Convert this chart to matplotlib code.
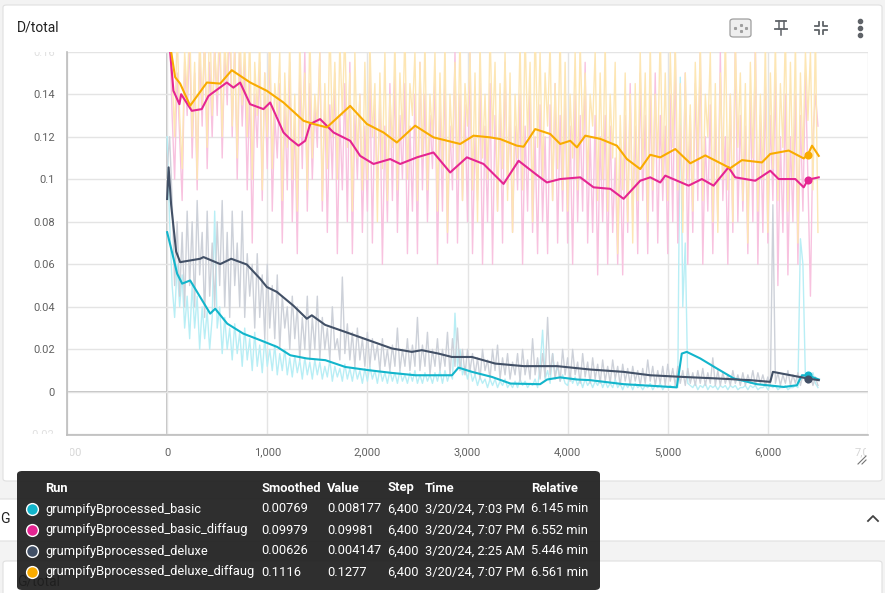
import matplotlib
matplotlib.use("Agg")
import matplotlib.pyplot as plt
from matplotlib.patches import FancyBboxPatch
from matplotlib.lines import Line2D
from matplotlib.transforms import Bbox

plt.rcParams["font.family"] = ["Roboto", "DejaVu Sans"]

# ---------------- data ----------------
runs = ["grumpifyBprocessed_basic", "grumpifyBprocessed_basic_diffaug",
        "grumpifyBprocessed_deluxe", "grumpifyBprocessed_deluxe_diffaug"]
colors = ["#12b5cb", "#e52592", "#425066", "#f9ab00"]
raw_colors = ["#b8eef5", "#f8c2df", "#cdd1d9", "#fde6b4"]
smoothed_vals = ["0.00769", "0.09979", "0.00626", "0.1116"]
raw_vals = ["0.008177", "0.09981", "0.004147", "0.1277"]
last_steps = ["6,400", "6,400", "6,400", "6,400"]
times = ["3/20/24, 7:03 PM", "3/20/24, 7:07 PM", "3/20/24, 2:25 AM", "3/20/24, 7:07 PM"]
relative = ["6.145 min", "6.552 min", "5.446 min", "6.561 min"]

# raw values every 25 steps, 0 .. 6500
raw_steps = list(range(0, 6525, 25))

basic_raw = [
    0.12, 0.08, 0.05, 0.035, 0.06, 0.04, 0.055, 0.03, 0.045, 0.025,
    0.05, 0.03, 0.045, 0.02, 0.04, 0.025, 0.038, 0.02, 0.035, 0.085,
    0.03, 0.04, 0.018, 0.035, 0.02, 0.03, 0.015, 0.032, 0.018, 0.028,
    0.012, 0.03, 0.015, 0.025, 0.01, 0.028, 0.012, 0.022, 0.009, 0.025,
    0.012, 0.02, 0.01, 0.022, 0.008, 0.018, 0.01, 0.02, 0.008, 0.016,
    0.007, 0.017, 0.009, 0.015, 0.006, 0.016, 0.008, 0.014, 0.006, 0.015,
    0.008, 0.014, 0.006, 0.012, 0.007, 0.015, 0.005, 0.012, 0.007, 0.011,
    0.005, 0.013, 0.006, 0.011, 0.005, 0.012, 0.006, 0.01, 0.004, 0.011,
    0.005, 0.012, 0.006, 0.01, 0.004, 0.011, 0.005, 0.009, 0.004, 0.01,
    0.005, 0.009, 0.004, 0.01, 0.005, 0.008, 0.004, 0.009, 0.005, 0.01,
    0.004, 0.008, 0.004, 0.009, 0.005, 0.008, 0.004, 0.009, 0.005, 0.01,
    0.004, 0.01, 0.005, 0.009, 0.006, 0.037, 0.012, 0.02, 0.008, 0.012,
    0.006, 0.011, 0.005, 0.008, 0.003, 0.007, 0.004, 0.006, 0.002, 0.006,
    0.003, 0.006, 0.002, 0.005, 0.003, 0.006, 0.002, 0.004, 0.002, 0.005,
    0.002, 0.006, 0.003, 0.005, 0.002, 0.004, 0.003, 0.006, 0.002, 0.012,
    0.029, 0.006, 0.01, 0.004, 0.018, 0.008, 0.012, 0.005, 0.008, 0.004,
    0.003, 0.008, 0.004, 0.007, 0.003, 0.006, 0.002, 0.006, 0.003, 0.005,
    0.002, 0.005, 0.003, 0.006, 0.002, 0.005, 0.002, 0.004, 0.002, 0.006,
    0.002, 0.004, 0.001, 0.004, 0.002, 0.004, 0.001, 0.004, 0.002, 0.003,
    0.001, 0.003, 0.002, 0.004, 0.001, 0.003, 0.002, 0.004, 0.001, 0.003,
    0.002, 0.003, 0.002, 0.003, 0.002, 0.148, 0.04, 0.07, 0.004, 0.003,
    0.002, 0.004, 0.001, 0.003, 0.002, 0.004, 0.001, 0.003, 0.002, 0.003,
    0.001, 0.003, 0.002, 0.003, 0.001, 0.003, 0.002, 0.003, 0.001, 0.002,
    0.002, 0.003, 0.001, 0.003, 0.002, 0.003, 0.001, 0.002, 0.002, 0.003,
    0.001, 0.003, 0.002, 0.003, 0.001, 0.002, 0.002, 0.003, 0.001, 0.002,
    0.002, 0.003, 0.002, 0.072, 0.06, 0.006, 0.008177, 0.005, 0.009, 0.004,
    0.002]

basic_diffaug_raw = [
    0.20, 0.17, 0.13, 0.10, 0.15, 0.12, 0.09, 0.155, 0.13, 0.165,
    0.11, 0.15, 0.095, 0.16, 0.125, 0.17, 0.105, 0.155, 0.12, 0.165,
    0.13, 0.17, 0.11, 0.16, 0.135, 0.175, 0.12, 0.165, 0.10, 0.16,
    0.125, 0.155, 0.095, 0.145, 0.07, 0.14, 0.115, 0.155, 0.09, 0.15,
    0.105, 0.165, 0.085, 0.13, 0.11, 0.145, 0.07, 0.135, 0.095, 0.155,
    0.08, 0.13, 0.065, 0.15, 0.105, 0.16, 0.085, 0.145, 0.10, 0.135,
    0.115, 0.16, 0.085, 0.14, 0.075, 0.135, 0.10, 0.15, 0.065, 0.13,
    0.095, 0.145, 0.08, 0.155, 0.065, 0.13, 0.10, 0.14, 0.075, 0.125,
    0.085, 0.15, 0.07, 0.135, 0.095, 0.14, 0.06, 0.125, 0.08, 0.145,
    0.09, 0.15, 0.075, 0.13, 0.10, 0.145, 0.065, 0.125, 0.085, 0.14,
    0.065, 0.155, 0.095, 0.14, 0.08, 0.13, 0.105, 0.15, 0.06, 0.135,
    0.085, 0.15, 0.07, 0.125, 0.095, 0.16, 0.07, 0.14, 0.09, 0.135,
    0.08, 0.16, 0.065, 0.12, 0.09, 0.145, 0.06, 0.125, 0.08, 0.145,
    0.06, 0.13, 0.085, 0.14, 0.07, 0.155, 0.095, 0.13, 0.075, 0.125,
    0.095, 0.14, 0.06, 0.125, 0.085, 0.145, 0.075, 0.12, 0.065, 0.135,
    0.08, 0.12, 0.065, 0.135, 0.09, 0.145, 0.07, 0.13, 0.085, 0.14,
    0.07, 0.125, 0.06, 0.14, 0.08, 0.13, 0.085, 0.155, 0.07, 0.12,
    0.075, 0.13, 0.055, 0.12, 0.08, 0.13, 0.06, 0.125, 0.075, 0.11,
    0.06, 0.115, 0.055, 0.13, 0.075, 0.145, 0.08, 0.125, 0.065, 0.15,
    0.09, 0.13, 0.065, 0.14, 0.085, 0.15, 0.07, 0.13, 0.09, 0.125,
    0.065, 0.14, 0.08, 0.16, 0.07, 0.125, 0.085, 0.15, 0.06, 0.13,
    0.075, 0.145, 0.09, 0.16, 0.06, 0.12, 0.085, 0.135, 0.065, 0.13,
    0.08, 0.16, 0.09, 0.12, 0.06, 0.14, 0.075, 0.165, 0.08, 0.13,
    0.085, 0.125, 0.065, 0.14, 0.08, 0.165, 0.06, 0.13, 0.075, 0.145,
    0.07, 0.13, 0.09, 0.15, 0.05, 0.12, 0.075, 0.14, 0.055, 0.12,
    0.08, 0.14, 0.06, 0.13, 0.085, 0.15, 0.09981, 0.045, 0.12, 0.14,
    0.125]

deluxe_raw = [
    0.105, 0.12, 0.09, 0.05, 0.08, 0.045, 0.075, 0.04, 0.085, 0.05,
    0.08, 0.04, 0.09, 0.055, 0.075, 0.035, 0.085, 0.045, 0.07, 0.04,
    0.08, 0.05, 0.09, 0.04, 0.075, 0.035, 0.085, 0.05, 0.07, 0.04,
    0.085, 0.035, 0.065, 0.045, 0.06, 0.03, 0.065, 0.035, 0.055, 0.025,
    0.06, 0.03, 0.05, 0.025, 0.055, 0.02, 0.045, 0.03, 0.04, 0.02,
    0.045, 0.025, 0.04, 0.015, 0.035, 0.02, 0.045, 0.015, 0.035, 0.02,
    0.045, 0.015, 0.035, 0.02, 0.03, 0.015, 0.04, 0.02, 0.025, 0.015,
    0.054, 0.018, 0.032, 0.015, 0.028, 0.012, 0.03, 0.015, 0.025, 0.012,
    0.028, 0.012, 0.025, 0.015, 0.022, 0.01, 0.025, 0.012, 0.02, 0.01,
    0.022, 0.012, 0.03, 0.01, 0.02, 0.012, 0.025, 0.01, 0.022, 0.012,
    0.035, 0.01, 0.022, 0.012, 0.028, 0.008, 0.02, 0.012, 0.025, 0.01,
    0.02, 0.012, 0.028, 0.008, 0.025, 0.012, 0.03, 0.01, 0.02, 0.008,
    0.02, 0.01, 0.018, 0.008, 0.016, 0.006, 0.02, 0.01, 0.015, 0.006,
    0.02, 0.01, 0.022, 0.006, 0.016, 0.008, 0.018, 0.006, 0.014, 0.008,
    0.018, 0.005, 0.02, 0.008, 0.015, 0.006, 0.025, 0.008, 0.016, 0.006,
    0.018, 0.007, 0.035, 0.008, 0.018, 0.006, 0.014, 0.005, 0.02, 0.008,
    0.016, 0.005, 0.02, 0.008, 0.014, 0.004, 0.018, 0.007, 0.014, 0.004,
    0.016, 0.006, 0.013, 0.004, 0.015, 0.005, 0.012, 0.004, 0.015, 0.006,
    0.012, 0.003, 0.013, 0.005, 0.011, 0.003, 0.012, 0.005, 0.01, 0.003,
    0.011, 0.004, 0.015, 0.005, 0.012, 0.003, 0.01, 0.004, 0.012, 0.003,
    0.013, 0.005, 0.011, 0.003, 0.012, 0.004, 0.01, 0.003, 0.011, 0.004,
    0.009, 0.003, 0.01, 0.004, 0.011, 0.003, 0.009, 0.004, 0.016, 0.003,
    0.01, 0.003, 0.009, 0.004, 0.008, 0.003, 0.01, 0.004, 0.008, 0.003,
    0.009, 0.003, 0.008, 0.004, 0.01, 0.003, 0.009, 0.004, 0.008, 0.003,
    0.007, 0.003, 0.088, 0.004, 0.009, 0.003, 0.008, 0.004, 0.01, 0.003,
    0.008, 0.004, 0.009, 0.003, 0.008, 0.005, 0.004147, 0.008, 0.003, 0.007,
    0.003]

deluxe_diffaug_raw = [
    0.21, 0.19, 0.15, 0.12, 0.17, 0.13, 0.105, 0.16, 0.14, 0.175,
    0.12, 0.155, 0.10, 0.17, 0.135, 0.165, 0.115, 0.18, 0.13, 0.16,
    0.14, 0.175, 0.12, 0.165, 0.145, 0.19, 0.125, 0.16, 0.11, 0.175,
    0.135, 0.165, 0.12, 0.17, 0.10, 0.155, 0.13, 0.165, 0.095, 0.15,
    0.12, 0.17, 0.105, 0.145, 0.13, 0.16, 0.09, 0.15, 0.115, 0.165,
    0.10, 0.14, 0.085, 0.165, 0.12, 0.15, 0.095, 0.17, 0.11, 0.14,
    0.125, 0.16, 0.09, 0.145, 0.105, 0.175, 0.12, 0.155, 0.10, 0.165,
    0.13, 0.17, 0.115, 0.15, 0.085, 0.16, 0.11, 0.14, 0.095, 0.155,
    0.10, 0.165, 0.12, 0.145, 0.08, 0.15, 0.105, 0.16, 0.09, 0.14,
    0.115, 0.165, 0.095, 0.15, 0.12, 0.17, 0.10, 0.145, 0.13, 0.16,
    0.09, 0.155, 0.11, 0.165, 0.095, 0.14, 0.12, 0.16, 0.085, 0.15,
    0.105, 0.165, 0.075, 0.14, 0.115, 0.155, 0.10, 0.17, 0.09, 0.145,
    0.125, 0.16, 0.095, 0.15, 0.08, 0.165, 0.11, 0.14, 0.10, 0.17,
    0.12, 0.155, 0.085, 0.145, 0.105, 0.16, 0.09, 0.15, 0.075, 0.14,
    0.11, 0.165, 0.095, 0.17, 0.12, 0.155, 0.08, 0.175, 0.115, 0.16,
    0.10, 0.15, 0.125, 0.165, 0.09, 0.145, 0.105, 0.17, 0.095, 0.155,
    0.085, 0.14, 0.11, 0.16, 0.095, 0.165, 0.12, 0.15, 0.10, 0.14,
    0.125, 0.16, 0.09, 0.15, 0.10, 0.165, 0.085, 0.14, 0.11, 0.155,
    0.065, 0.13, 0.095, 0.15, 0.08, 0.14, 0.07, 0.145, 0.09, 0.16,
    0.105, 0.15, 0.08, 0.165, 0.095, 0.14, 0.11, 0.17, 0.10, 0.15,
    0.09, 0.16, 0.115, 0.165, 0.095, 0.145, 0.075, 0.15, 0.10, 0.135,
    0.085, 0.155, 0.11, 0.165, 0.09, 0.14, 0.12, 0.16, 0.08, 0.145,
    0.075, 0.15, 0.10, 0.17, 0.095, 0.14, 0.08, 0.165, 0.115, 0.15,
    0.09, 0.145, 0.07, 0.155, 0.11, 0.16, 0.085, 0.14, 0.10, 0.165,
    0.075, 0.15, 0.105, 0.165, 0.09, 0.145, 0.115, 0.17, 0.085, 0.155,
    0.10, 0.165, 0.07, 0.15, 0.11, 0.16, 0.1277, 0.16, 0.095, 0.17,
    0.075]

basic_s_steps = [0, 33, 100, 150, 230, 330, 430, 480, 600, 760, 930, 1100, 1230, 1395,
                 1580, 1780, 2010, 2245, 2480, 2710, 2845, 2910, 3045, 3245, 3430, 3725,
                 3795, 3925, 4095, 4225, 4560, 4890, 5090, 5140, 5190, 5325, 5490, 5660,
                 5890, 6160, 6290, 6340, 6400, 6510]
basic_s = [0.0751, 0.0688, 0.0556, 0.0509, 0.0524, 0.0446, 0.0368, 0.0391, 0.0321, 0.0274,
           0.0243, 0.0211, 0.0172, 0.0157, 0.0149, 0.0117, 0.0102, 0.0089, 0.0078, 0.0078,
           0.0078, 0.0114, 0.0094, 0.007, 0.0039, 0.0036, 0.0058, 0.0068, 0.0058, 0.0055,
           0.0036, 0.0027, 0.0021, 0.018, 0.0188, 0.0157, 0.011, 0.0063, 0.0036, 0.0023,
           0.0031, 0.0078, 0.00769, 0.0058]

basic_diffaug_s_steps = [0, 30, 63, 123, 140, 246, 346, 413, 596, 662, 729, 829, 962, 1029,
                         1162, 1229, 1312, 1379, 1429, 1528, 1662, 1828, 1928, 2061, 2228,
                         2328, 2495, 2660, 2827, 2994, 3160, 3360, 3510, 3693, 3793, 3926,
                         4126, 4259, 4426, 4559, 4725, 4825, 4925, 4975, 5208, 5341, 5457,
                         5607, 5674, 5874, 6024, 6107, 6274, 6358, 6400, 6508]
basic_diffaug_s = [0.19, 0.16, 0.1416, 0.1353, 0.140, 0.1322, 0.133, 0.1392, 0.1455, 0.1431,
                   0.1455, 0.1353, 0.133, 0.1361, 0.122, 0.1189, 0.1158, 0.1181, 0.126, 0.1283,
                   0.122, 0.1181, 0.111, 0.1072, 0.1095, 0.1072, 0.1103, 0.1126, 0.1032, 0.1103,
                   0.1072, 0.0978, 0.1087, 0.102, 0.0985, 0.1001, 0.1009, 0.0962, 0.0955, 0.0908,
                   0.0993, 0.1009, 0.0985, 0.1017, 0.097, 0.1001, 0.097, 0.1056, 0.1009, 0.0993,
                   0.104, 0.1001, 0.1001, 0.0962, 0.09979, 0.1009]

deluxe_s_steps = [0, 15, 40, 90, 130, 330, 363, 530, 640, 796, 929, 996, 1096, 1262, 1395,
                  1445, 1578, 1778, 2011, 2245, 2444, 2544, 2710, 2844, 3044, 3277, 3560,
                  3893, 4226, 4559, 4825, 5158, 5492, 5824, 6024, 6050, 6400, 6508]
deluxe_s = [0.0907, 0.1056, 0.088, 0.066, 0.061, 0.0626, 0.0634, 0.0601, 0.0626, 0.0599,
            0.0532, 0.0493, 0.047, 0.0405, 0.0344, 0.036, 0.0315, 0.0282, 0.0243, 0.0204,
            0.0188, 0.0196, 0.018, 0.0164, 0.0164, 0.0133, 0.0121, 0.0121, 0.0105, 0.0094,
            0.0078, 0.007, 0.0063, 0.0055, 0.0047, 0.0094, 0.00626, 0.0055]

deluxe_diffaug_s_steps = [0, 40, 80, 130, 230, 397, 530, 646, 830, 996, 1162, 1362, 1462,
                          1595, 1828, 1995, 2161, 2294, 2477, 2660, 2927, 3060, 3227, 3327,
                          3493, 3560, 3676, 3826, 3926, 4026, 4093, 4176, 4326, 4492, 4592,
                          4725, 4825, 4925, 5075, 5225, 5375, 5541, 5624, 5741, 5941, 6024,
                          6208, 6358, 6400, 6441, 6508]
deluxe_diffaug_s = [0.2, 0.16, 0.148, 0.145, 0.1346, 0.1455, 0.145, 0.1513, 0.1455, 0.1416,
                    0.1361, 0.1275, 0.126, 0.1244, 0.1345, 0.126, 0.122, 0.1173, 0.1252, 0.1197,
                    0.1166, 0.1205, 0.1197, 0.1189, 0.1158, 0.1153, 0.1236, 0.1213, 0.1166, 0.1181,
                    0.115, 0.1205, 0.119, 0.1158, 0.1095, 0.1048, 0.1115, 0.1103, 0.1142, 0.1075,
                    0.1112, 0.1072, 0.1052, 0.109, 0.1079, 0.1119, 0.1135, 0.1098, 0.1116, 0.1158,
                    0.111]

raws = [basic_raw, basic_diffaug_raw, deluxe_raw, deluxe_diffaug_raw]
smooth_steps = [basic_s_steps, basic_diffaug_s_steps, deluxe_s_steps, deluxe_diffaug_s_steps]
smooths = [basic_s, basic_diffaug_s, deluxe_s, deluxe_diffaug_s]

x_ticks = [-1000, 0, 1000, 2000, 3000, 4000, 5000, 6000, 7000]
x_labels = ["-1,000", "0", "1,000", "2,000", "3,000", "4,000", "5,000", "6,000", "7,000"]
y_ticks = [-0.02, 0, 0.02, 0.04, 0.06, 0.08, 0.1, 0.12, 0.14, 0.16]
y_labels = ["-0.02", "0", "0.02", "0.04", "0.06", "0.08", "0.1", "0.12", "0.14", "0.16"]

# ---------------- figure / page ----------------
W, H = 885, 593
fig = plt.figure(figsize=(W / 100, H / 100), dpi=100, facecolor="#f3f3f3")


def fx(px):
    return px / W


def fy(py):
    return 1 - py / H


def card(x0, y0, x1, y1):
    fig.patches.append(FancyBboxPatch((fx(x0), fy(y1)), fx(x1 - x0), (y1 - y0) / H,
                                      boxstyle="round,pad=0,rounding_size=0.004",
                                      transform=fig.transFigure, facecolor="white",
                                      edgecolor="#e0e0e0", linewidth=0.8, zorder=-2))


card(3, 5, 882, 481)
card(-5, 499, 890, 541)
card(3, 561, 882, 600)

fig.text(fx(17), fy(28), "D/total", fontsize=10, color="#212121", va="center", ha="left")
fig.text(fx(0), fy(519), "G", fontsize=10, color="#212121", va="center", ha="left")
fig.add_artist(Line2D([fx(868), fx(873), fx(878)], [fy(521), fy(516), fy(521)],
                      color="#424242", lw=1.3))
fig.text(fx(17), fy(581), "G/total", fontsize=10, color="#212121", va="center", ha="left",
         zorder=1)

# header icons
fig.patches.append(FancyBboxPatch((fx(730), fy(37)), fx(21), 18 / H,
                                  boxstyle="round,pad=0,rounding_size=0.004",
                                  transform=fig.transFigure, facecolor="#eeeeee",
                                  edgecolor="#9e9e9e", linewidth=0.9))
for (a, b) in [(740.5, 31), (740.5, 25), (735, 28), (746, 28)]:
    fig.add_artist(Line2D([fx(a)], [fy(b)], marker="s", ms=1.2, color="#9e9e9e", lw=0))
icon_c = "#5f6368"
# pin
fig.add_artist(Line2D([fx(776), fx(786)], [fy(21), fy(21)], color=icon_c, lw=1.3))
fig.add_artist(Line2D([fx(778.5), fx(778.5)], [fy(21), fy(29)], color=icon_c, lw=1.1))
fig.add_artist(Line2D([fx(783.5), fx(783.5)], [fy(21), fy(29)], color=icon_c, lw=1.1))
fig.add_artist(Line2D([fx(775), fx(787)], [fy(29), fy(29)], color=icon_c, lw=1.3))
fig.add_artist(Line2D([fx(781), fx(781)], [fy(29), fy(35)], color=icon_c, lw=1.1))
# collapse arrows
for sx, sy in [(-1, -1), (1, -1), (-1, 1), (1, 1)]:
    cx, cy = 821 + sx * 2, 28 + sy * 2
    fig.add_artist(Line2D([fx(cx), fx(cx), fx(cx + sx * 4)],
                          [fy(cy + sy * 4), fy(cy), fy(cy)], color=icon_c, lw=1.3))
# more (vertical dots)
for yy in [21, 28, 35]:
    fig.add_artist(Line2D([fx(860)], [fy(yy)], marker="o", ms=3, color=icon_c, lw=0))
# resize handle
fig.add_artist(Line2D([fx(858), fx(866)], [fy(464), fy(456)], color="#757575", lw=0.8))
fig.add_artist(Line2D([fx(862), fx(866)], [fy(464), fy(460)], color="#757575", lw=0.8))

# ---------------- plot ----------------
ax = fig.add_axes([fx(67), fy(435), fx(868 - 67), (435 - 51.7) / H])
ax.set_facecolor("none")
ax.set_xlim(-1000, 7000)
ax.set_ylim(-0.0203, 0.1597)

for raw, c in zip(raws, raw_colors):
    ax.plot(raw_steps, raw, color=c, lw=1.0, zorder=2)
for st, sm, c in zip(smooth_steps, smooths, colors):
    ax.plot(st, sm, color=c, lw=1.5, zorder=3)
for i, c in enumerate(colors):
    ax.scatter([6400], [float(smoothed_vals[i])], s=34, color=c, zorder=4, linewidths=0)

ax.set_xticks(x_ticks)
ax.set_xticklabels(x_labels)
ax.set_yticks(y_ticks)
ax.set_yticklabels(y_labels)
ax.grid(True, color="#e4e4e4", lw=1, zorder=0)
ax.axhline(0, color="#b8b8b8", lw=1.2, zorder=1)
ax.axvline(0, color="#b8b8b8", lw=1.2, zorder=1)
ax.tick_params(length=0, labelsize=8, labelcolor="#616161", pad=9)
for side in ["top", "right"]:
    ax.spines[side].set_visible(False)
for side in ["left", "bottom"]:
    ax.spines[side].set_color("#bdbdbd")
    ax.spines[side].set_linewidth(1.2)

xclip = Bbox.from_extents(70, 0, 866, H)
yclip = Bbox.from_extents(0, H - 434, W, H - 52)
for lab in ax.get_xticklabels():
    if lab.get_text() in ("-1,000", "7,000"):
        lab.set_color("#d6d6d6")
        lab.set_clip_box(xclip)
        lab.set_clip_on(True)
for lab in ax.get_yticklabels():
    if lab.get_text() in ("-0.02", "0.16"):
        lab.set_color("#e0e0e0")
        lab.set_clip_box(yclip)
        lab.set_clip_on(True)

# ---------------- tooltip ----------------
fig.patches.append(FancyBboxPatch((fx(17), fy(590)), fx(583), 119 / H,
                                  boxstyle="round,pad=0,rounding_size=0.006",
                                  transform=fig.transFigure, facecolor="#1f1f1f",
                                  edgecolor="none", alpha=0.93, zorder=10))
cols_x = [45, 261, 327, 387, 425, 531]
headers = ["Run", "Smoothed", "Value", "Step", "Time", "Relative"]
for x, h in zip(cols_x, headers):
    fig.text(fx(x), fy(488), h, fontsize=9.3, color="white", fontweight="bold",
             va="center", ha="left", zorder=11)
rows_y = [509, 530, 551, 572]
for i, y in enumerate(rows_y):
    fig.add_artist(Line2D([fx(32)], [fy(y)], marker="o", ms=8.5, color=colors[i],
                          markeredgecolor="white", markeredgewidth=1.0, lw=0, zorder=11))
    vals = [runs[i], smoothed_vals[i], raw_vals[i], last_steps[i], times[i], relative[i]]
    for x, v in zip(cols_x, vals):
        fig.text(fx(x), fy(y), v, fontsize=9.3, color="white", va="center", ha="left",
                 zorder=11)

fig.savefig("out.png", dpi=100, facecolor=fig.get_facecolor())
